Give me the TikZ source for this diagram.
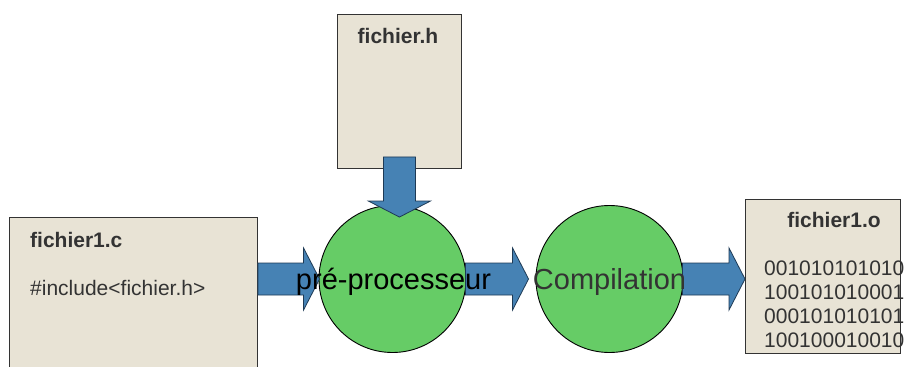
\documentclass[tikz,border=0pt]{standalone}
\usepackage{fontspec}
\setmainfont{Liberation Sans}
\usetikzlibrary{calc}

\definecolor{paper}{HTML}{E8E3D5}
\definecolor{leaf}{HTML}{66CC66}
\definecolor{steel}{HTML}{4682B4}
\definecolor{steeledge}{HTML}{1E3A55}
\definecolor{ink}{HTML}{333333}

% Block arrow from #1 to #2: shaft 32 wide, head 62 wide and 16 long
\newcommand\blockarrow[2]{%
  \coordinate (ba-h) at ($(#2)!16pt!(#1)$);
  \filldraw[arrowbody]
    ($(#1)!16pt!90:(#2)$) -- ($(ba-h)!16pt!-90:(#1)$) -- ($(ba-h)!31pt!-90:(#1)$)
    -- (#2) -- ($(ba-h)!31pt!90:(#1)$) -- ($(ba-h)!16pt!90:(#1)$)
    -- ($(#1)!16pt!-90:(#2)$) -- cycle;}

\begin{document}
\begin{tikzpicture}[x=1pt, y=-1pt,
  doc/.style={draw=ink, line width=0.9pt, fill=paper, inner sep=0pt, anchor=north west},
  stage/.style={circle, draw=black, line width=0.9pt, fill=leaf, inner sep=0pt},
  arrowbody/.style={fill=steel, draw=steeledge, line width=0.8pt, line join=miter},
  title/.style={font=\fontsize{21}{24}\selectfont\bfseries, text=ink, inner sep=0pt},
  body/.style={font=\fontsize{21}{24}\selectfont, text=ink, inner sep=0pt, anchor=base west},
  big/.style={font=\fontsize{29}{33}\selectfont, inner sep=0pt, anchor=base}]
\useasboundingbox (0,0) rectangle (906,367);
\clip (0,0) rectangle (906,367);

% files
\node[doc, minimum width=248pt, minimum height=190pt] (src) at (9,217) {};
\node[doc, minimum width=124pt, minimum height=154pt] (hdr) at (337,14) {};
\node[doc, minimum width=155pt, minimum height=154pt] (obj) at (745,199) {};

% processing stages
\node[stage, minimum size=147pt] (pre) at (392.5,279) {};
\node[stage, minimum size=147pt] (comp) at (609.5,279) {};

% arrows between the stages
\coordinate (a1s) at (src.east |- pre.center);
\coordinate (a1e) at ($(pre.west)+(1,0)$);
\coordinate (a2s) at ($(pre.east)+(-1,0)$);
\coordinate (a2e) at ($(comp.west)+(-7,0)$);
\coordinate (a3s) at ($(comp.east)+(-1,0)$);
\coordinate (a3e) at (obj.west |- comp.center);
\coordinate (a4s) at ($(hdr.south)+(0,-12)$);
\coordinate (a4e) at ($(hdr.south |- pre.north)+(0,12)$);
\blockarrow{a1s}{a1e}
\blockarrow{a2s}{a2e}
\blockarrow{a3s}{a3e}
\blockarrow{a4s}{a4e}

% texts
\node[title, anchor=base west] (srcname) at (30,247) {fichier1.c};
\node[body] (srcline) at (30,295) {\#include<fichier.h>};
\node[title, anchor=base] (hdrname) at (398,43) {fichier.h};
\node[title, anchor=base] (objname) at (834,227) {fichier1.o};
\node[body] (bin1) at (764,275) {001010101010};
\node[body] (bin2) at (764,299) {100101010001};
\node[body] (bin3) at (764,323) {000101010101};
\node[body] (bin4) at (764,347) {100100010010};
\node[big, text=black] (prelabel) at (393.5,289) {pré-processeur};
\node[big, text=ink] (complabel) at (609.5,289) {Compilation};
\end{tikzpicture}
\end{document}
